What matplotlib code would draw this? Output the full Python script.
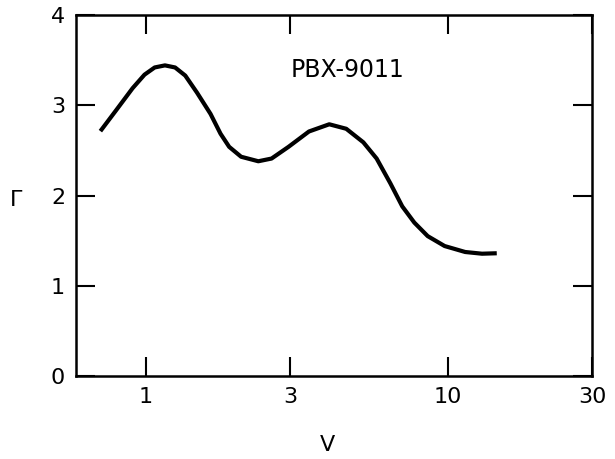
import matplotlib
matplotlib.use("Agg")
import matplotlib.pyplot as plt
from matplotlib.ticker import FixedLocator, FixedFormatter, NullLocator

# Data
v_vals = [0.709, 0.797, 0.906, 0.992, 1.072, 1.159, 1.252, 1.353, 1.48, 1.64,
          1.77, 1.89, 2.07, 2.36, 2.61, 2.97, 3.47, 4.05, 4.61, 5.25, 5.81,
          6.45, 7.06, 7.74, 8.57, 9.75, 11.4, 12.96, 14.5]
gamma_vals = [2.714, 2.94, 3.19, 3.34, 3.42, 3.443, 3.42, 3.33, 3.14, 2.905,
              2.685, 2.54, 2.43, 2.38, 2.41, 2.54, 2.71, 2.79, 2.74, 2.59, 2.41,
              2.135, 1.88, 1.70, 1.55, 1.44, 1.374, 1.355, 1.36]

x_ticks = [1, 3, 10, 30]
x_tick_labels = ["1", "3", "10", "30"]
y_ticks = [0, 1, 2, 3, 4]
y_tick_labels = ["0", "1", "2", "3", "4"]
annotation = "PBX-9011"

fig = plt.figure(figsize=(6.15, 4.59), dpi=100)
ax = fig.add_axes([0.124, 0.181, 0.839, 0.786])

ax.plot(v_vals, gamma_vals, color="black", lw=3.0,
        solid_capstyle="butt", solid_joinstyle="round")
ax.set_xscale("log")
ax.set_xlim(0.59, 30)
ax.set_ylim(0, 4)

ax.xaxis.set_major_locator(FixedLocator(x_ticks))
ax.xaxis.set_major_formatter(FixedFormatter(x_tick_labels))
ax.xaxis.set_minor_locator(NullLocator())
ax.yaxis.set_major_locator(FixedLocator(y_ticks))
ax.yaxis.set_major_formatter(FixedFormatter(y_tick_labels))

ax.tick_params(axis="both", which="major", direction="in", length=14, width=1.5,
               top=True, right=True, labelsize=16, pad=8)
for s in ax.spines.values():
    s.set_linewidth(1.8)

ax.text(4.66, 3.39, annotation, fontsize=17, ha="center", va="center")

fig.text(0.026, 0.565, "Γ", fontsize=16, ha="center", va="center")
fig.text(0.533, 0.03, "V", fontsize=16, ha="center", va="center")

fig.savefig("out.png", dpi=100)
